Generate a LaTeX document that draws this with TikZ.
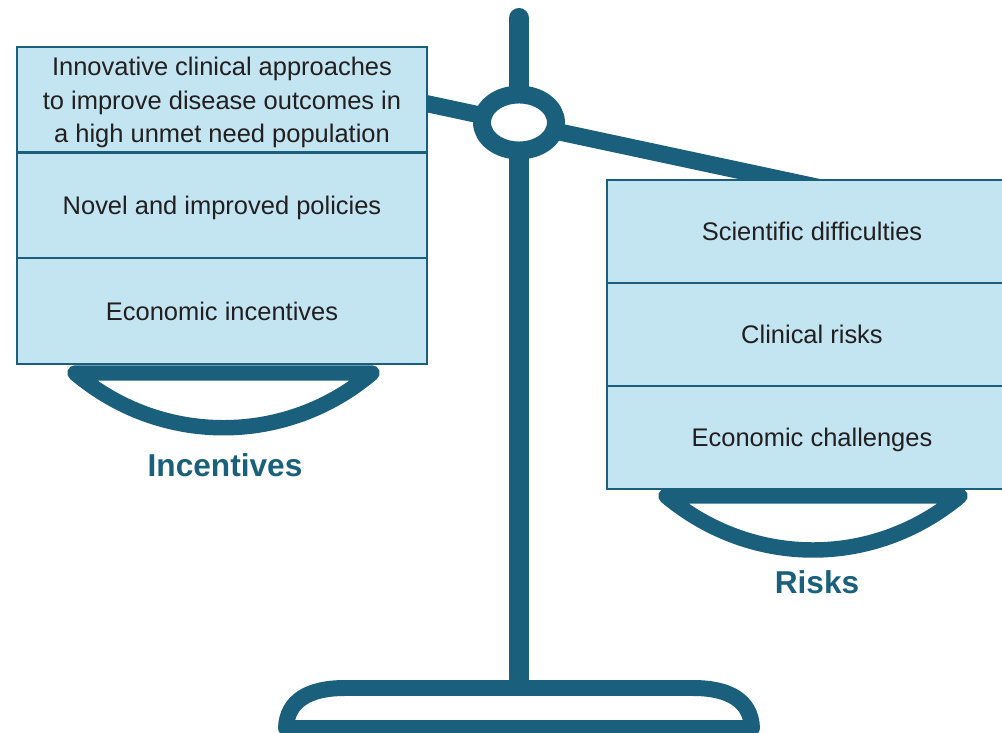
\documentclass[tikz,border=0pt]{standalone}
\usepackage{fontspec}
\setmainfont{Liberation Sans}
\usetikzlibrary{positioning}

\definecolor{scaleteal}{RGB}{26,96,124}
\definecolor{panblue}{RGB}{194,229,241}
\definecolor{textgray}{RGB}{35,31,32}

\begin{document}
\begin{tikzpicture}[x=0.02cm, y=-0.02cm,
    cell/.style={rectangle, draw=scaleteal, line width=1.4pt, fill=panblue, text=textgray,
        minimum width=8.2cm, inner sep=0pt, outer sep=0pt, align=center, text depth=0pt,
        font=\fontsize{14.5}{18.8}\selectfont},
    leftcell/.style={cell, minimum height=2.113cm},
    rightcell/.style={cell, minimum height=2.06cm},
    rod/.style={draw=scaleteal, line join=round},
    side/.style={text=scaleteal, font=\fontsize{18}{22}\selectfont\bfseries}]

    \useasboundingbox (0,0) rectangle (1002,733);
    \clip (0,0) rectangle (1002,733);

    % Beam and pole
    \draw [rod, line width=9.7pt] (405,99) -- (840,192);
    \draw [rod, line width=11.4pt, line cap=round] (519,18) -- (519,684);
    \draw [rod, line width=10.2pt, fill=white] (519,122.5) ellipse [x radius=0.74cm, y radius=0.56cm];

    % Pans
    \draw [rod, line width=8.8pt] (75,373) -- (372,373) .. controls (286,446) and (161,446) .. cycle;
    \draw [rod, line width=8.8pt] (666,496) -- (960,496) .. controls (874,568) and (752,568) .. cycle;

    % Incentives
    \node [leftcell] (inc1) at (222,99.8) {Innovative clinical approaches\\to improve disease outcomes in\\a high unmet need population};
    \node [leftcell, below=0pt of inc1] (inc2) {Novel and improved policies};
    \node [leftcell, below=0pt of inc2] (inc3) {Economic incentives};

    % Risks
    \node [rightcell] (risk1) at (812,231.5) {Scientific difficulties};
    \node [rightcell, below=0pt of risk1] (risk2) {Clinical risks};
    \node [rightcell, below=0pt of risk2] (risk3) {Economic challenges};

    % Labels
    \node [side] (inclabel) at (225,465) {Incentives};
    \node [side] (risklabel) at (817,582) {Risks};

    % Base
    \draw [rod, line width=9.1pt] (286,728) .. controls (287,700) and (310,688) .. (345,688) -- (693,688) .. controls (728,688) and (751,700) .. (752,728) -- cycle;

\end{tikzpicture}
\end{document}
